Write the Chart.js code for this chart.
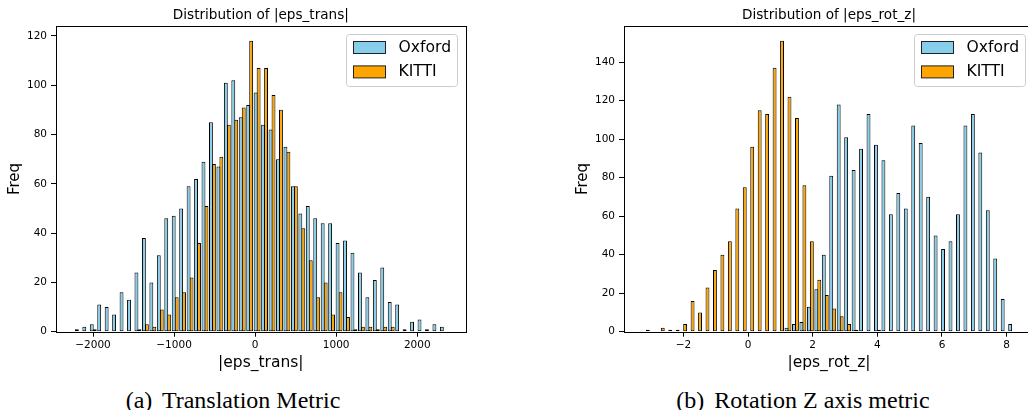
<!DOCTYPE html>
<html>
<head>
<meta charset="utf-8">
<script src="https://cdn.jsdelivr.net/npm/chart.js@4.4.1/dist/chart.umd.min.js"></script>
<style>
  html, body { margin: 0; padding: 0; background: #fff; overflow: hidden; }
  body { width: 1028px; height: 410px; position: relative; }
  canvas { position: absolute; top: 0; }
  #c1 { left: 0; }
  #c2 { left: 568px; }
  .caption {
    position: absolute; top: 388px; width: 400px; text-align: center;
    font-family: "Liberation Serif", "Times New Roman", serif;
    font-size: 24px; line-height: 24px; color: #000; white-space: nowrap;
  }
  .caption span { margin-right: 4px; }
</style>
</head>
<body>
<canvas id="c1" width="520" height="380"></canvas>
<canvas id="c2" width="480" height="380"></canvas>
<div class="caption" style="left:33px"><span>(a)</span> Translation Metric</div>
<div class="caption" style="left:603px"><span>(b)</span> Rotation Z axis metric</div>

<script>
// histogram bins (50 bins over the combined data range)
const binCount = 50
const transRange = [-2227, 2368]
const rotRange = [-3.26, 8.27]

// counts per bin
const transOxford = [1, 2, 3, 11, 10, 7, 16, 13, 24, 38, 20, 31, 46, 47, 50, 59, 62, 69, 85, 67, 101, 102, 87, 92, 97, 84,
  82, 70, 75, 59, 48, 51, 46, 44, 44, 36, 37, 32, 24, 14, 21, 26, 12, 11, 1, 4, 5, 1, 3, 2]
const transKitti = [0, 0, 1, 0, 0, 0, 0, 0, 1, 3, 2, 9, 7, 14, 16, 22, 36, 51, 68, 71, 84, 86, 91, 118, 107, 107,
  96, 90, 73, 59, 42, 29, 14, 20, 7, 16, 6, 1, 2, 2, 1, 2, 2, 0, 0, 0, 0, 0, 0, 0]

const rotOxford = [0, 0, 0, 0, 0, 0, 0, 0, 0, 0, 0, 0, 0, 0, 0, 0, 0, 0, 0,
  2, 4, 5, 13, 22, 40, 81, 118, 101, 84, 95, 113, 97, 89, 61, 72, 64, 107, 98, 70, 50, 43, 47, 61, 107, 113, 93, 63, 38, 17, 4]
const rotKitti = [1, 0, 2, 1, 1, 4, 16, 10, 23, 32, 40, 47, 64, 75, 96, 115, 113, 137, 151, 122, 111, 76, 47, 27, 19,
  12, 8, 4, 1, 0, 0, 1, 0, 0, 0, 0, 0, 0, 0, 0, 0, 0, 0, 0, 0, 0, 0, 0, 0, 0]

const transXTicks = [-2000, -1000, 0, 1000, 2000]
const transYTicks = [0, 20, 40, 60, 80, 100, 120]
const rotXTicks = [-2, 0, 2, 4, 6, 8]
const rotYTicks = [0, 20, 40, 60, 80, 100, 120, 140]

const seriesLabels = ['Oxford', 'KITTI']
const seriesColors = ['#87CEEB', '#FFA500']

const FONT = '"DejaVu Sans", sans-serif'

function binCenters(range, n) {
  const w = (range[1] - range[0]) / n
  return Array.from({ length: n }, (_, i) => range[0] + (i + 0.5) * w)
}

// matplotlib-like 5% margins around the data
function padded(range) {
  const m = (range[1] - range[0]) * 0.05
  return [range[0] - m, range[1] + m]
}

const frame = {
  id: 'frame',
  afterDraw(chart) {
    const { ctx, chartArea: a } = chart
    ctx.save()
    ctx.strokeStyle = '#000'
    ctx.lineWidth = 1
    const l = Math.round(a.left) + 0.5, t = Math.round(a.top) + 0.5
    const r = Math.round(a.right) + 0.5, b = Math.round(a.bottom) + 0.5
    ctx.strokeRect(l, t, r - l, b - t)
    ctx.restore()
  }
}

const insetLegend = {
  id: 'insetLegend',
  afterDraw(chart) {
    const { ctx, chartArea: a } = chart
    const w = 111, h = 52
    const x = Math.round(a.right - 9 - w) + 0.5, y = Math.round(a.top + 8) + 0.5
    ctx.save()
    ctx.beginPath()
    ctx.roundRect(x, y, w, h, 3)
    ctx.fillStyle = 'rgba(255,255,255,0.8)'
    ctx.fill()
    ctx.strokeStyle = '#cccccc'
    ctx.lineWidth = 1
    ctx.stroke()
    chart.data.datasets.forEach((ds, i) => {
      const py = y + 7 + i * 24.4
      ctx.fillStyle = ds.backgroundColor
      ctx.fillRect(x + 7, py, 32, 12)
      ctx.strokeStyle = '#222'
      ctx.strokeRect(x + 7, py, 32, 12)
      ctx.fillStyle = '#000'
      ctx.font = '15.6px ' + FONT
      ctx.textBaseline = 'middle'
      ctx.textAlign = 'left'
      ctx.fillText(ds.label, x + 52, py + 6.5)
    })
    ctx.restore()
  }
}

function makeChart(id, range, oxford, kitti, xTicks, yTicks, yMax, title, xLabel, padRight) {
  const centers = binCenters(range, binCount)
  const lim = padded(range)
  const minus = v => String(v).replace('-', '\u2212')
  const tickFont = { family: FONT, size: 10.5 }
  new Chart(document.getElementById(id), {
    type: 'bar',
    data: {
      datasets: [oxford, kitti].map((vals, k) => ({
        label: seriesLabels[k],
        data: vals.map((v, i) => ({ x: centers[i], y: v })),
        backgroundColor: seriesColors[k],
        borderColor: '#000',
        borderWidth: 1,
        borderSkipped: false,
        categoryPercentage: 0.8,
        barPercentage: 1.3
      }))
    },
    options: {
      responsive: false,
      animation: false,
      events: [],
      layout: { padding: { left: 0, right: padRight, top: 0, bottom: 0 } },
      plugins: {
        legend: { display: false },
        tooltip: { enabled: false },
        title: {
          display: true, text: title, fullSize: false, color: '#000',
          font: { family: FONT, size: 13.6, weight: 'normal' },
          padding: { top: 7, bottom: 3 }
        }
      },
      scales: {
        x: {
          type: 'linear', min: lim[0], max: lim[1], offset: false,
          afterBuildTicks: s => { s.ticks = xTicks.map(v => ({ value: v })) },
          afterFit: s => { s.height = 48.3 },
          ticks: { color: '#000', font: tickFont, padding: 2, maxRotation: 0, callback: minus },
          grid: { display: true, offset: false, drawOnChartArea: false, drawTicks: true, tickLength: 5, color: '#000' },
          border: { display: false },
          title: { display: true, text: xLabel, color: '#000', font: { family: FONT, size: 15.5 }, padding: { top: 0, bottom: 8 } }
        },
        y: {
          min: 0, max: yMax,
          afterBuildTicks: s => { s.ticks = yTicks.map(v => ({ value: v })) },
          afterFit: s => { s.width = 56 },
          ticks: { color: '#000', font: tickFont, padding: 4 },
          grid: { display: true, drawOnChartArea: false, drawTicks: true, tickLength: 5, color: '#000' },
          border: { display: false },
          title: { display: true, text: 'Freq', color: '#000', font: { family: FONT, size: 15 }, padding: { top: 6.5, bottom: 0 } }
        }
      }
    },
    plugins: [frame, insetLegend]
  })
}

makeChart('c1', transRange, transOxford, transKitti, transXTicks, transYTicks, 118 * 1.05,
  'Distribution of |eps_trans|', '|eps_trans|', 54.3)
makeChart('c2', rotRange, rotOxford, rotKitti, rotXTicks, rotYTicks, 151 * 1.05,
  'Distribution of |eps_rot_z|', '|eps_rot_z|', 14)
</script>
</body>
</html>
